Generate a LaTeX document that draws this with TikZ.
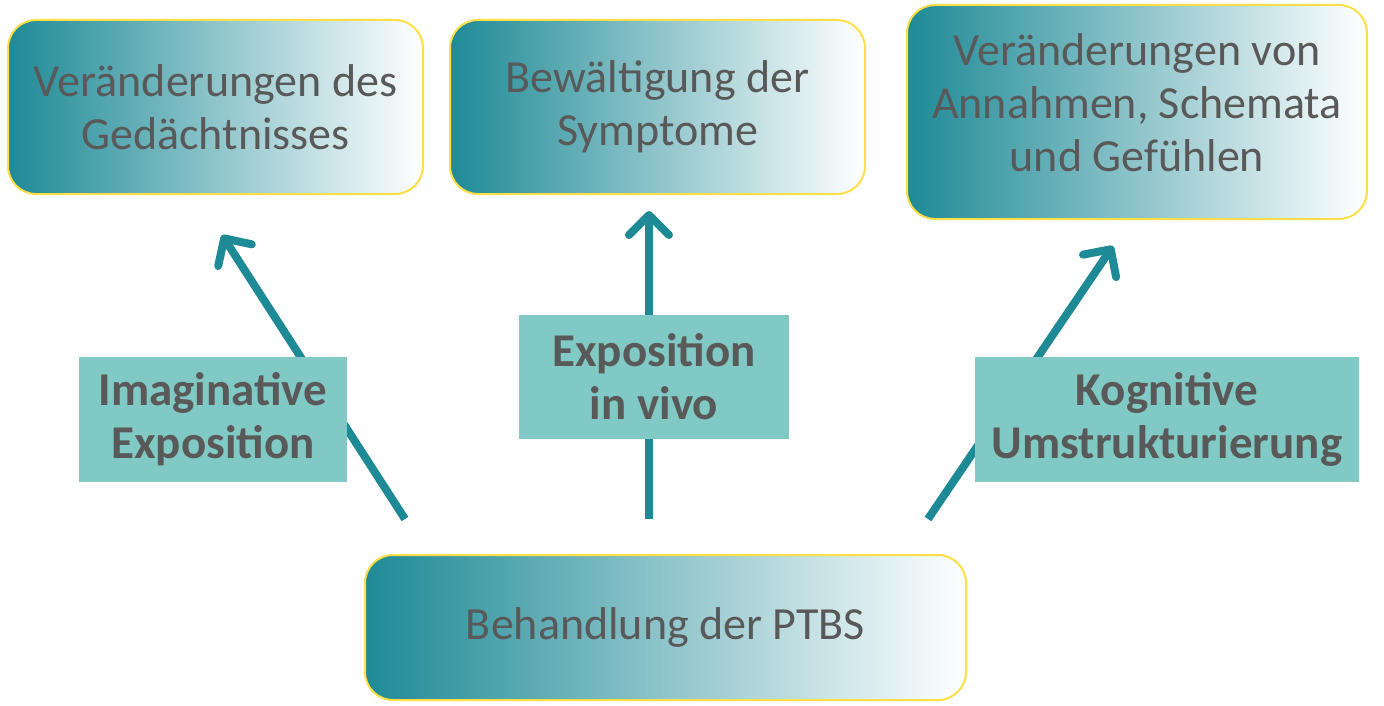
\documentclass[tikz,border=0pt]{standalone}
\usepackage{fontspec}
\setmainfont{Carlito}
\usetikzlibrary{arrows.meta}
\definecolor{teal1}{RGB}{30,138,150}
\definecolor{midg}{RGB}{168,196,202}
\definecolor{txt}{RGB}{89,89,89}
\definecolor{lab}{RGB}{128,201,196}
\definecolor{ylw}{RGB}{255,222,70}
\tikzset{
  gbox/.style={draw=ylw, line width=2pt, rounded corners=28pt, left color=teal1, middle color=midg, right color=white, text=txt, align=center, font=\fontsize{46}{53}\selectfont, inner sep=0pt},
  lbox/.style={fill=lab, text=txt, align=center, font=\fontsize{47}{53}\selectfont\bfseries, inner sep=0pt},
  arr/.style={draw=teal1, line width=8pt, -{Straight Barb[length=20pt, width=40pt, round]}}
}
\begin{document}
\begin{tikzpicture}[x=1pt,y=-1pt]
\useasboundingbox (0,0) rectangle (1384,706);
\node[gbox, minimum width=415pt, minimum height=174pt] (b1) at (215.5,107) {Veränderungen des\\Gedächtnisses};
\node[gbox, minimum width=415pt, minimum height=174pt] (b2) at (657.5,107) {Bewältigung der\\Symptome};
\node[gbox, minimum width=460pt, minimum height=214pt] (b3) at (1137,112) {\raisebox{-2pt}[0pt][0pt]{\begin{tabular}{@{}c@{}}Veränderungen von\\Annahmen, Schemata\\und Gefühlen\end{tabular}}};
\node[gbox, minimum width=601pt, minimum height=145pt] (b0) at (665.5,627.5) {Behandlung der PTBS};
\coordinate (s1) at (405,519);
\coordinate (t1) at (222,235);
\coordinate (s2) at (649,519);
\coordinate (t2) at (649,211);
\coordinate (s3) at (928,519);
\coordinate (t3) at (1113,246);
\draw[arr] (s1) -- (t1);
\draw[arr] (s2) -- (t2);
\draw[arr] (s3) -- (t3);
\node[lbox, minimum width=268pt, minimum height=125pt] (l1) at (213,419.5) {Imaginative\\Exposition};
\node[lbox, minimum width=270pt, minimum height=124pt] (l2) at (654,377) {Exposition\\in vivo};
\node[lbox, minimum width=384pt, minimum height=125pt] (l3) at (1167,419.5) {Kognitive\\Umstrukturierung};
\end{tikzpicture}
\end{document}
